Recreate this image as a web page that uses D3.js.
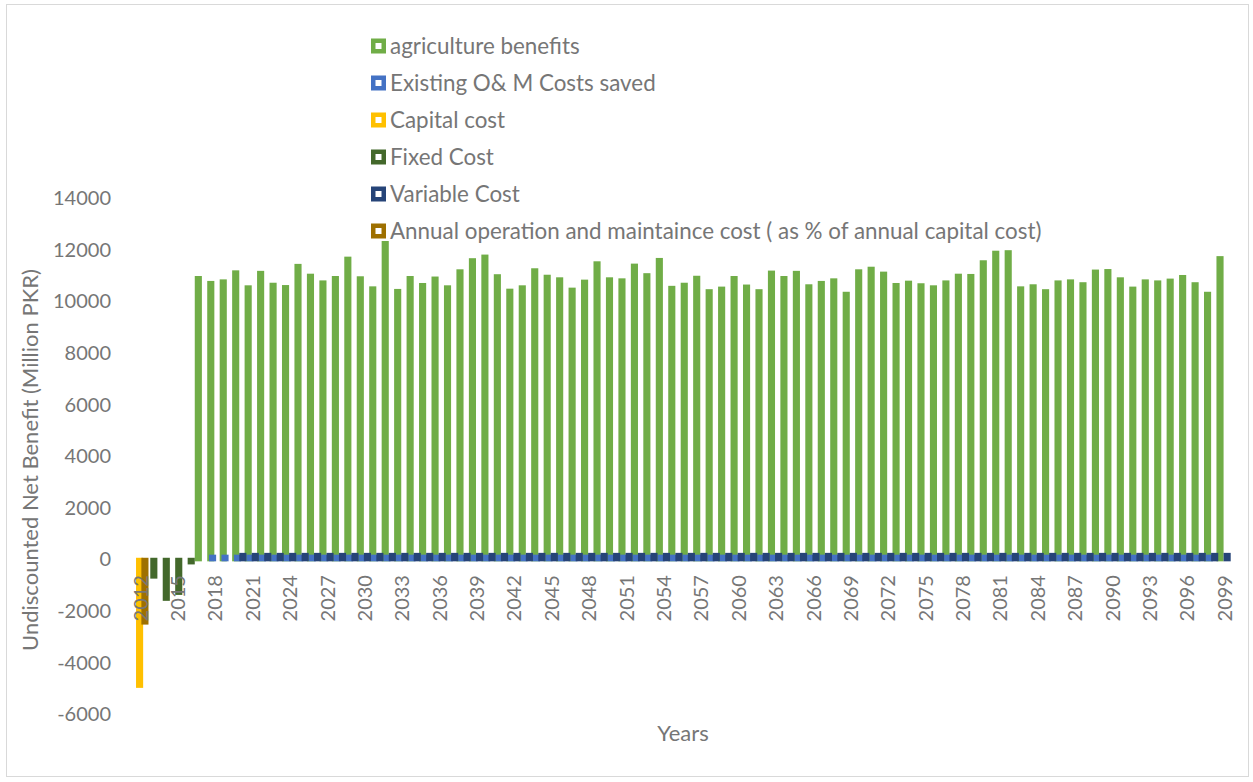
<!DOCTYPE html>
<html>
<head>
<meta charset="utf-8">
<script src="https://cdn.jsdelivr.net/npm/d3@7/dist/d3.min.js"></script>
<style>
  html, body { margin: 0; padding: 0; background: #ffffff; }
  svg { display: block; font-family: Lato, "Open Sans", sans-serif; }
</style>
</head>
<body>
<svg id="chart" width="1253" height="782"></svg>
<script>
// Project years 2012 .. 2099
const years = [
  2012,2013,2014,2015,2016,2017,2018,2019,2020,2021,2022,2023,2024,2025,2026,2027,2028,2029,2030,
  2031,2032,2033,2034,2035,2036,2037,2038,2039,2040,2041,2042,2043,2044,2045,2046,2047,2048,2049,2050,
  2051,2052,2053,2054,2055,2056,2057,2058,2059,2060,2061,2062,2063,2064,2065,2066,2067,2068,2069,2070,
  2071,2072,2073,2074,2075,2076,2077,2078,2079,2080,2081,2082,2083,2084,2085,2086,2087,2088,2089,2090,
  2091,2092,2093,2094,2095,2096,2097,2098,2099
];

// Series names (legend order)
const seriesNames = [
  "agriculture benefits",
  "Existing O& M Costs saved",
  "Capital cost",
  "Fixed Cost",
  "Variable Cost",
  "Annual operation and maintaince cost ( as % of annual capital cost)"
];

// Agriculture benefits, 2017 .. 2099 (Million PKR)
const agricultureStart = 2017;
const agricultureBenefits = [
  10910,10720,10780,11130,10550,11110,10650,10560,11380,11000,10740,10910,11660,10900,10510,12500,
  10410,10910,10640,10890,10550,11170,11600,11740,10980,10420,10550,11210,10960,10860,10460,10770,
  11480,10860,10820,11390,11020,11610,10530,10650,10920,10400,10500,10910,10580,10400,11120,10910,
  11110,10590,10720,10820,10300,11170,11270,11080,10640,10730,10630,10550,10740,11000,10990,11520,
  11890,11910,10510,10590,10400,10740,10780,10670,11160,11180,10860,10500,10780,10740,10810,10950,
  10670,10300,11680
];

// Existing O&M costs saved, 2018 .. 2099
const omSavedStart = 2018;
const omSaved = [
  120,120,120,120,120,120,120,120,120,120,120,120,120,120,120,120,120,120,120,120,120,
  120,120,120,120,120,120,120,120,120,120,120,120,120,120,120,120,120,120,120,120,
  120,120,120,120,120,120,120,120,120,120,120,120,120,120,120,120,120,120,120,120,
  120,120,120,120,120,120,120,120,120,120,120,120,120,120,120,120,120,120,120,120
];

// Capital cost, 2012
const capitalStart = 2012;
const capitalCost = [-4900];

// Fixed cost, 2012 .. 2016
const fixedStart = 2012;
const fixedCost = [0, -670, -1530, -1300, -120];

// Variable cost, 2020 .. 2099
const variableStart = 2020;
const variableCost = [
  190,190,190,190,190,190,190,190,190,190,190,190,190,190,190,190,190,190,190,190,
  190,190,190,190,190,190,190,190,190,190,190,190,190,190,190,190,190,190,190,190,
  190,190,190,190,190,190,190,190,190,190,190,190,190,190,190,190,190,190,190,190,
  190,190,190,190,190,190,190,190,190,190,190,190,190,190,190,190,190,190,190,190
];

// Annual O&M cost, 2012
const annualOmStart = 2012;
const annualOm = [-2450];

// Y axis ticks and the labelled x categories
const yTicks = [-6000,-4000,-2000,0,2000,4000,6000,8000,10000,12000,14000];
const xLabelYears = [2012,2015,2018,2021,2024,2027,2030,2033,2036,2039,2042,2045,2048,2051,2054,
  2057,2060,2063,2066,2069,2072,2075,2078,2081,2084,2087,2090,2093,2096,2099];

const colors = ["#70AD47", "#4472C4", "#FFC000", "#43682B", "#264478", "#9E7000"];
const textColor = "#767676";

// Build the per-series point lists
const seriesData = [
  [agricultureStart, agricultureBenefits],
  [omSavedStart, omSaved],
  [capitalStart, capitalCost],
  [fixedStart, fixedCost],
  [variableStart, variableCost],
  [annualOmStart, annualOm]
].map(([start, vals], k) => vals.map((v, i) => ({ year: start + i, value: v, k })));

const svg = d3.select("#chart");

// chart frame
svg.append("rect")
  .attr("x", 6.5).attr("y", 4.5).attr("width", 1242).attr("height", 772)
  .attr("fill", "#ffffff").attr("stroke", "#d9d9d9").attr("stroke-width", 1);

const x = d3.scaleBand().domain(years).range([134.25, 1230.7]).paddingInner(0).paddingOuter(0);
const y = d3.scaleLinear().domain([-6000, 14000]).range([714.5, 198]);

// clustered columns: 6 series, 50% overlap, no gap
const barW = x.bandwidth() / 3.5;
const offset = d3.scaleLinear().domain([0, 5]).range([0, 5 * barW / 2]);

const barsG = svg.append("g").attr("class", "bars");
seriesData.forEach((pts, k) => {
  barsG.append("g")
    .selectAll("rect")
    .data(pts)
    .join("rect")
    .attr("x", d => x(d.year) + offset(k))
    .attr("width", barW)
    .attr("y", d => y(Math.max(0, d.value)))
    .attr("height", d => Math.abs(y(d.value) - y(0)))
    .attr("fill", "none")
    .attr("stroke", colors[k])
    .attr("stroke-width", barW);
});

// y axis labels (plain hyphen for negatives)
const yAxis = svg.append("g")
  .attr("transform", "translate(114,0)")
  .call(d3.axisLeft(y).tickValues(yTicks).tickSize(0).tickPadding(3).tickFormat(d => String(d)));
yAxis.select(".domain").remove();
yAxis.selectAll("text")
  .attr("fill", textColor)
  .style("font-family", "Lato, sans-serif")
  .style("font-size", "20px");

// x axis labels, rotated
const xAxis = svg.append("g")
  .attr("transform", `translate(0,${y(0)})`)
  .call(d3.axisBottom(x).tickValues(xLabelYears).tickSize(0));
xAxis.select(".domain").remove();
xAxis.selectAll("text")
  .attr("transform", "rotate(-90)")
  .attr("text-anchor", "end")
  .attr("x", -15.5)
  .attr("y", 0)
  .attr("dy", "0.36em")
  .attr("fill", textColor)
  .style("font-family", "Lato, sans-serif")
  .style("font-size", "20px");

// axis titles
svg.append("text")
  .attr("transform", "translate(30,460) rotate(-90)")
  .attr("text-anchor", "middle")
  .attr("dy", "0.35em")
  .attr("fill", textColor)
  .style("font-size", "22px")
  .text("Undiscounted Net Benefit (Million PKR)");

svg.append("text")
  .attr("x", 683).attr("y", 733)
  .attr("text-anchor", "middle")
  .attr("dy", "0.35em")
  .attr("fill", textColor)
  .style("font-size", "22px")
  .text("Years");

// legend
const legendY = d3.scaleLinear().domain([0, 5]).range([46, 231]);
const legend = svg.append("g").attr("class", "legend");
legend.append("rect")
  .attr("x", 366).attr("y", 28).attr("width", 690).attr("height", 213)
  .attr("fill", "#ffffff");
seriesNames.forEach((name, k) => {
  const cy = legendY(k);
  legend.append("rect")
    .attr("x", 371).attr("y", cy - 7.5).attr("width", 15).attr("height", 15)
    .attr("fill", colors[k]);
  legend.append("rect")
    .attr("x", 375.5).attr("y", cy - 3).attr("width", 6).attr("height", 6)
    .attr("fill", "#ffffff");
  legend.append("text")
    .attr("x", 390).attr("y", cy)
    .attr("dy", "0.35em")
    .attr("fill", textColor)
    .style("font-size", "22.4px")
    .text(name);
});
</script>
</body>
</html>
